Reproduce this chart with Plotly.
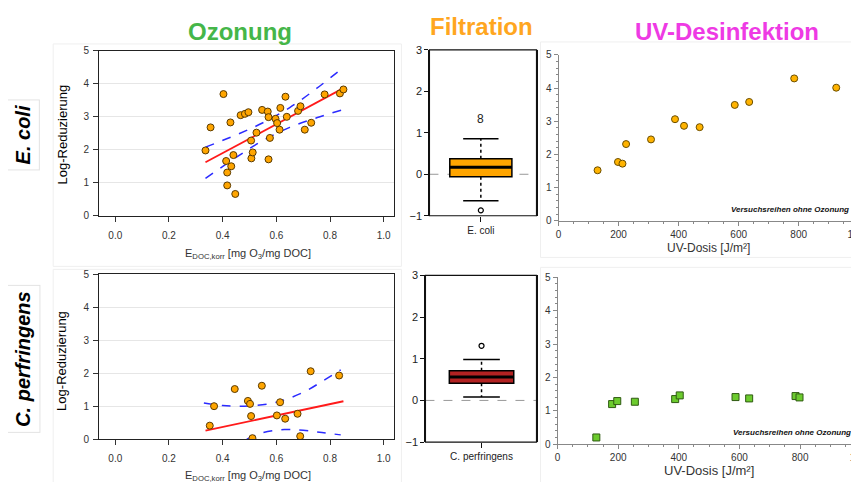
import plotly.graph_objects as go

W, H = 859, 482          # target picture size
OFF = 8                  # default page margin around the figure
S = 0.982                # observed picture/page scale of the viewer
PW, PH = W / S, H / S    # page extent that ends up in the picture
FW, FH = round(PW - OFF), round(PH - OFF)

# ---------------- data ----------------
# Ozonung, E. coli
oz_ec_x = [0.336, 0.355, 0.403, 0.413, 0.417, 0.417, 0.429, 0.432, 0.44, 0.447, 0.467, 0.483,
           0.496, 0.506, 0.507, 0.512, 0.526, 0.547, 0.568, 0.571, 0.571, 0.576, 0.597, 0.603,
           0.612, 0.615, 0.634, 0.639, 0.681, 0.69, 0.706, 0.73, 0.78, 0.837, 0.85]
oz_ec_y = [1.98, 2.68, 3.69, 1.66, 1.31, 0.92, 2.83, 1.50, 1.84, 0.66, 3.05, 3.09,
           3.14, 2.28, 1.74, 1.92, 2.52, 3.21, 3.16, 2.99, 1.71, 2.36, 2.94, 2.81,
           2.61, 3.27, 3.61, 3.00, 3.18, 3.32, 2.61, 2.82, 3.68, 3.71, 3.83]
fit_ec_x = [0.336, 0.85]
fit_ec_y = [1.62, 3.87]
ci_ec_x = [0.336, 0.45, 0.55, 0.65, 0.75, 0.85]
ci_ec_up = [2.08, 2.45, 2.82, 3.28, 3.86, 4.50]
ci_ec_lo = [1.13, 1.77, 2.28, 2.68, 2.97, 3.22]

# Ozonung, C. perfringens
oz_cp_x = [0.352, 0.368, 0.445, 0.494, 0.502, 0.506, 0.511, 0.546, 0.602, 0.614, 0.633, 0.679, 0.689, 0.728, 0.834]
oz_cp_y = [0.41, 1.00, 1.52, 1.16, 1.07, 0.70, 0.03, 1.62, 0.72, 1.12, 0.62, 0.77, 0.09, 2.06, 1.93]
fit_cp_x = [0.336, 0.85]
fit_cp_y = [0.26, 1.15]
ci_cp_up_x = [0.33, 0.40, 0.50, 0.60, 0.70, 0.78, 0.84]
ci_cp_up = [1.10, 1.02, 1.01, 1.12, 1.42, 1.80, 2.10]
ci_cp_lo_x = [0.49, 0.55, 0.63, 0.70, 0.77, 0.84]
ci_cp_lo = [0.0, 0.20, 0.29, 0.27, 0.20, 0.13]

# Filtration (box statistics)
filt_labels = ["E. coli", "C. perfringens"]
filt_q1 = [-0.06, 0.41]
filt_med = [0.17, 0.56]
filt_q3 = [0.375, 0.71]
filt_lo = [-0.64, 0.08]
filt_hi = [0.855, 0.98]
filt_out = [-0.87, 1.31]
filt_n_text = "8"
filt_n_y = 1.33

# UV-Desinfektion
uv_ec_x = [130, 198, 213, 225, 308, 388, 418, 470, 587, 635, 785, 925]
uv_ec_y = [1.52, 1.77, 1.72, 2.31, 2.45, 3.06, 2.86, 2.82, 3.49, 3.58, 4.29, 4.01]
uv_cp_x = [128, 180, 197, 255, 388, 403, 587, 632, 785, 798, 985]
uv_cp_y = [0.20, 1.20, 1.29, 1.27, 1.35, 1.46, 1.41, 1.37, 1.44, 1.40, 1.48]

# ---------------- helpers (picture pixels -> paper fractions) ----------------
def clamp(v):
    return max(0.0, min(1.0, v))

def fx_(a):
    return (a / S - OFF) / FW

def fy_(b):
    return 1 - (b / S - OFF) / FH

def dx(a, b):
    return [clamp(fx_(a)), clamp(fx_(b))]

def dy(top, bottom):
    return [clamp(fy_(bottom)), clamp(fy_(top))]

ORANGE = "#FFA500"
RED_BOX = "#B22222"
fig = go.Figure()

# faint panel frames (background)
for (x0, y0, x1, y1) in [(50, 38, 398, 262), (50, 265, 398, 480), (537, 36, 858, 253), (537, 263, 858, 480)]:
    fig.add_shape(type="rect", xref="paper", yref="paper", x0=fx_(x0), x1=fx_(x1), y0=fy_(y1), y1=fy_(y0),
                  line=dict(color="#efefef", width=1), layer="below")

# ---------- Ozonung panels ----------
for ax, (px, py, fx, fy) in zip(["", "2"], [(oz_ec_x, oz_ec_y, fit_ec_x, fit_ec_y),
                                         (oz_cp_x, oz_cp_y, fit_cp_x, fit_cp_y)]):
    xa, ya = "x" + ax, "y" + ax
    if ax == "":
        bands = [(ci_ec_x, ci_ec_up), (ci_ec_x, ci_ec_lo)]
    else:
        bands = [(ci_cp_up_x, ci_cp_up), (ci_cp_lo_x, ci_cp_lo)]
    for bx, by in bands:
        fig.add_trace(go.Scatter(x=bx, y=by, mode="lines", line=dict(color="#2b2bff", width=1.5, dash="dash"),
                                 line_shape="spline", xaxis=xa, yaxis=ya))
    fig.add_trace(go.Scatter(x=fx, y=fy, mode="lines", line=dict(color="#ff1a1a", width=1.8), xaxis=xa, yaxis=ya))
    fig.add_trace(go.Scatter(x=px, y=py, mode="markers",
                             marker=dict(size=7, color=ORANGE, line=dict(color="#5a3a00", width=1)),
                             xaxis=xa, yaxis=ya))

oz_x = dict(range=[-0.06, 1.04], tickvals=[0, 0.2, 0.4, 0.6, 0.8, 1.0], tickformat=".1f",
            showline=True, linecolor="#222", linewidth=1.2, mirror=True, showgrid=False, zeroline=False,
            ticks="outside", ticklen=5, tickcolor="#333",
            tickfont=dict(family="Arial", size=10, color="#333"), ticklabelstandoff=5)
oz_y = dict(range=[0, 5], dtick=1, showline=True, linecolor="#222", linewidth=1.2, mirror=True,
            showgrid=True, gridcolor="#e6e6e6", zeroline=False, ticks="outside", ticklen=5, tickcolor="#333",
            tickfont=dict(family="Arial", size=10, color="#333"), ticklabelstandoff=2)
fig.update_layout(
    xaxis=dict(domain=dx(96, 391), anchor="y", **oz_x),
    yaxis=dict(domain=dy(45, 211), anchor="x", **oz_y),
    xaxis2=dict(domain=dx(96, 391), anchor="y2", **oz_x),
    yaxis2=dict(domain=dy(270, 436), anchor="x2", **oz_y),
)

# ---------- Filtration panels ----------
BOX_W = 0.58
CAP_W = 0.33
fills = [ORANGE, RED_BOX]
for i, ax in enumerate(["3", "4"]):
    xa, ya = "x" + ax, "y" + ax
    fig.add_trace(go.Scatter(x=[0, 0, None, 0, 0], y=[filt_q3[i], filt_hi[i], None, filt_q1[i], filt_lo[i]],
                             mode="lines", line=dict(color="black", width=1.5, dash="dot"), xaxis=xa, yaxis=ya))
    fig.add_trace(go.Scatter(x=[-CAP_W / 2, CAP_W / 2, None, -CAP_W / 2, CAP_W / 2],
                             y=[filt_hi[i], filt_hi[i], None, filt_lo[i], filt_lo[i]],
                             mode="lines", line=dict(color="black", width=1.5), xaxis=xa, yaxis=ya))
    fig.add_trace(go.Bar(x=[0], y=[filt_q3[i] - filt_q1[i]], base=[filt_q1[i]], width=BOX_W,
                         marker=dict(color=fills[i], line=dict(color="black", width=1.5)), xaxis=xa, yaxis=ya))
    fig.add_trace(go.Scatter(x=[-BOX_W / 2, BOX_W / 2], y=[filt_med[i], filt_med[i]], mode="lines",
                             line=dict(color="black", width=3), xaxis=xa, yaxis=ya))
    fig.add_trace(go.Scatter(x=[0], y=[filt_out[i]], mode="markers",
                             marker=dict(symbol="circle-open", size=5, color="black", line=dict(width=1.2)),
                             xaxis=xa, yaxis=ya))
    fig.add_shape(type="line", xref=xa + " domain", yref=ya, x0=0, x1=1, y0=0, y1=0,
                  line=dict(color="#999", width=1, dash="dash"), layer="below")

filt_y = dict(range=[-1, 3], dtick=1, showline=True, linecolor="#111", linewidth=1.2, mirror=True,
              showgrid=False, zeroline=False, ticks="outside", ticklen=4, tickcolor="#111",
              tickfont=dict(family="Arial", size=11, color="#222"))
filt_x = dict(showline=False, showgrid=False, zeroline=False, ticks="outside", ticklen=5, tickcolor="#111",
              tickfont=dict(family="Arial", size=10, color="#222"), ticklabelstandoff=0)
fig.update_layout(
    xaxis3=dict(domain=dx(426, 533), anchor="y3", range=[-0.48, 0.52], tickvals=[0], ticktext=[filt_labels[0]], **filt_x),
    yaxis3=dict(domain=dy(44, 211), anchor="x3", **filt_y),
    xaxis4=dict(domain=dx(422, 533), anchor="y4", range=[-0.505, 0.495], tickvals=[0], ticktext=[filt_labels[1]], **filt_x),
    yaxis4=dict(domain=dy(271, 439), anchor="x4", **filt_y),
)
for xa, ya in [("x3", "y3"), ("x4", "y4")]:
    fig.add_shape(type="rect", xref=xa + " domain", yref=ya + " domain", x0=0, x1=1, y0=0, y1=1,
                  line=dict(color="#111", width=1.2))
fig.add_annotation(x=0, y=filt_n_y, xref="x3", yref="y3", text=filt_n_text, showarrow=False,
                   font=dict(family="Arial", size=12, color="#222"))

# ---------- UV panels ----------
fig.add_trace(go.Scatter(x=uv_ec_x, y=uv_ec_y, mode="markers",
                         marker=dict(size=7, color="#FFB300", line=dict(color="#6b4e00", width=1)),
                         xaxis="x5", yaxis="y5"))
fig.add_trace(go.Scatter(x=uv_cp_x, y=uv_cp_y, mode="markers",
                         marker=dict(symbol="square", size=7, color="#6CCB2E", line=dict(color="#2f5a12", width=1)),
                         xaxis="x6", yaxis="y6"))
uv_x = dict(range=[0, 1000], dtick=200, showline=True, linecolor="#888", linewidth=1, showgrid=False,
            zeroline=False, ticks="outside", ticklen=4, tickcolor="#888", ticklabeloverflow="allow",
            minor=dict(dtick=50, ticks="outside", ticklen=2, tickcolor="#888"),
            tickfont=dict(family="Liberation Sans", size=10, color="#333"))
uv_y = dict(range=[0, 5], dtick=1, showline=True, linecolor="#888", linewidth=1, showgrid=False,
            zeroline=False, ticks="outside", ticklen=4, tickcolor="#888",
            minor=dict(dtick=0.2, ticks="outside", ticklen=2, tickcolor="#888"),
            tickfont=dict(family="Liberation Sans", size=10, color="#333"))
fig.update_layout(
    xaxis5=dict(domain=dx(555, 855), anchor="y5", **uv_x),
    yaxis5=dict(domain=dy(49, 216), anchor="x5", **uv_y),
    xaxis6=dict(domain=dx(554, 857), anchor="y6", **uv_x),
    yaxis6=dict(domain=dy(273, 441), anchor="x6", **uv_y),
)
for xa, ya in [("x5", "y5"), ("x6", "y6")]:
    fig.add_annotation(x=0.975, y=0.03, xref=xa + " domain", yref=ya + " domain", xanchor="right", yanchor="bottom",
                       text="<b><i>Versuchsreihen ohne Ozonung</i></b>", showarrow=False,
                       font=dict(family="Liberation Sans", size=8, color="#111"))

# ---------- text ----------
def ann(x, y, text, size, color="#111", angle=0, family="Arial", **kw):
    fig.add_annotation(x=fx_(x), y=fy_(y), xref="paper", yref="paper", text=text, showarrow=False,
                       xanchor="center", yanchor="middle",
                       textangle=angle, font=dict(family=family, size=size, color=color), **kw)

ann(237, 25, "<b>Ozonung</b>", 24, "#45B649")
ann(478, 20, "<b>Filtration</b>", 24, "#FFA620")
ann(723, 25, "<b>UV-Desinfektion</b>", 24, "#EE3AE4")

ann(20, 130, "<b><i>E. coli</i></b>", 20, "#000", angle=-90, bgcolor="white", bordercolor="#e3e3e3",
    borderwidth=1, borderpad=5)
ann(20, 355, "<b><i>C. perfringens</i></b>", 20, "#000", angle=-90, bgcolor="white", bordercolor="#e3e3e3",
    borderwidth=1, borderpad=5)

ann(59, 129, "Log-Reduzierung", 13, "#000", angle=-90)
ann(59, 357, "Log-Reduzierung", 13, "#000", angle=-90)

xt = "E<sub>DOC,korr</sub> [mg O<sub>3</sub>/mg DOC]"
ann(245, 250, xt, 11, "#333")
ann(245, 473, xt, 11, "#333")

ann(705, 244, "UV-Dosis [J/m²]", 12, "#333", family="Liberation Sans")
ann(705, 468, "UV-Dosis [J/m²]", 13, "#333", family="Liberation Sans")

fig.update_layout(width=FW, height=FH, margin=dict(l=0, r=0, t=0, b=0), showlegend=False,
                  plot_bgcolor="white", paper_bgcolor="white", barmode="overlay")

fig.write_html("out.html", config={"displayModeBar": False})
